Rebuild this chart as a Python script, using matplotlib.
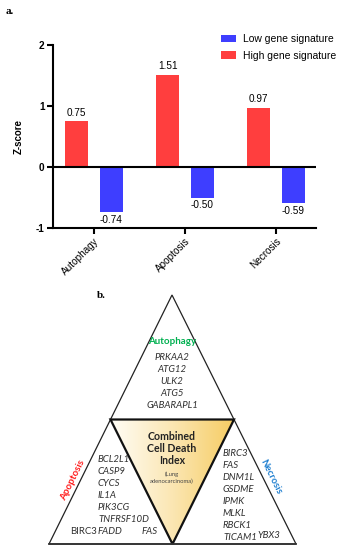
import numpy as np
import matplotlib
matplotlib.use("Agg")
import matplotlib.pyplot as plt
from matplotlib.patches import Polygon
from matplotlib.colors import LinearSegmentedColormap

# ---------------- data ----------------
categories = ["Autophagy", "Apoptosis", "Necrosis"]
low_values = [-0.74, -0.50, -0.59]
high_values = [0.75, 1.51, 0.97]
y_ticks = [-1, 0, 1, 2]

autophagy_genes = ["PRKAA2", "ATG12", "ULK2", "ATG5", "GABARAPL1"]
apoptosis_genes = ["BCL2L1", "CASP9", "CYCS", "IL1A", "PIK3CG", "TNFRSF10D", "FADD"]
necrosis_genes = ["BIRC3", "FAS", "DNM1L", "GSDME", "IPMK", "MLKL", "RBCK1", "TICAM1"]

RED = "#FF3E3E"
BLUE = "#3E3EFF"

plt.rcParams["font.family"] = ["Liberation Sans", "DejaVu Sans"]

fig = plt.figure(figsize=(3.44, 5.5), dpi=100)
W, H = 344, 550

# ---------------- panel a ----------------
ax = fig.add_axes([53 / W, 1 - 228 / H, (316 - 53) / W, (228 - 45) / H])
x = np.arange(len(categories))
bw, off = 0.25, 0.19
hb = ax.bar(x - off, high_values, bw, color=RED, label="High gene signature")
lb = ax.bar(x + off, low_values, bw, color=BLUE, label="Low gene signature")

for xi, v in zip(x - off, high_values):
    ax.annotate(f"{v:.2f}", (xi, v), xytext=(0, 2.5), textcoords="offset points",
                ha="center", va="bottom", fontsize=7.2)
for xi, v in zip(x + off, low_values):
    ax.annotate(f"{v:.2f}", (xi, v), xytext=(0, -2), textcoords="offset points",
                ha="center", va="top", fontsize=7.2)

ax.set_xlim(-0.45, 2.44)
ax.set_ylim(-1, 2)
ax.set_yticks(y_ticks)
ax.set_yticklabels([str(t) for t in y_ticks], fontweight="bold", fontsize=7.2)
ax.set_xticks(x)
ax.set_xticklabels(categories, rotation=45, ha="right", rotation_mode="anchor", fontsize=7.2)
ax.axhline(0, color="black", lw=1.5, zorder=3)
for s in ["top", "right"]:
    ax.spines[s].set_visible(False)
for s in ["left", "bottom"]:
    ax.spines[s].set_linewidth(1.5)
ax.tick_params(width=1.5, length=4, pad=2)
ax.set_ylabel("Z-score", fontweight="bold", fontsize=7, labelpad=9)

ax.legend(handles=[lb, hb], loc="upper left", bbox_to_anchor=(212 / W, 1 - 25 / H),
          bbox_transform=fig.transFigure, frameon=False, fontsize=7.5,
          handlelength=1.4, handleheight=0.7, labelspacing=0.6, handletextpad=0.7)

fig.text(6 / W, 1 - 12 / H, "a.", fontsize=8, fontweight="bold",
         family="Liberation Serif", va="center")

# ---------------- panel b ----------------
ax2 = fig.add_axes([0, 0, 1, 1], zorder=-1)
ax2.set_xlim(0, W)
ax2.set_ylim(H, 0)
ax2.axis("off")

apex = np.array([172, 295])
bl = np.array([49, 544])
br = np.array([296, 544])
ml = (apex + bl) / 2
mr = (apex + br) / 2
mb = (bl + br) / 2

outer = Polygon([apex, bl, br], closed=True, fill=False, ec="#222222", lw=0.9)
ax2.add_patch(outer)

inner_pts = [ml, mr, mb]
cmap = LinearSegmentedColormap.from_list("g", ["#FFFDF6", "#FBE6B2", "#F6CC62"])
grad = np.linspace(0, 1, 256).reshape(1, -1)
im = ax2.imshow(grad, cmap=cmap, extent=(ml[0], mr[0], mb[1], ml[1]), aspect="auto")
clip = Polygon(inner_pts, closed=True, transform=ax2.transData, fc="none", ec="none")
ax2.add_patch(clip)
im.set_clip_path(clip)
ax2.add_patch(Polygon(inner_pts, closed=True, fill=False, ec="#111111", lw=1.6,
                      joinstyle="miter"))
ax2.plot([bl[0], br[0]], [bl[1], br[1]], color="#333333", lw=1.3)

FB = ["Lato", "DejaVu Sans"]
GC = "#303030"
GS = 6.9
fig.text(97 / W, 1 - 295 / H, "b.", fontsize=8, fontweight="bold",
         family="Liberation Serif", va="center")

ax2.text(172, 342, "Autophagy", color="#00B050", fontweight="bold", fontsize=7,
         ha="center", va="center", family=FB)
for i, g in enumerate(autophagy_genes):
    ax2.text(172, 357 + i * 12, g, style="italic", fontsize=GS, ha="center",
             va="center", family=FB, color=GC)

for i, t in enumerate(["Combined", "Cell Death", "Index"]):
    ax2.text(172, 436 + i * 12.5, t, fontweight="bold", fontsize=7.6, ha="center",
             va="center", family=FB, color="#222222")
ax2.text(172, 474, "(Lung", fontsize=4.2, ha="center", va="center", family=FB, color="#444444")
ax2.text(172, 481, "adenocarcinoma)", fontsize=4.2, ha="center", va="center", family=FB,
         color="#444444")

for i, g in enumerate(apoptosis_genes):
    ax2.text(98, 459 + i * 12, g, style="italic", fontsize=GS, ha="left",
             va="center", family=FB, color=GC)
ax2.text(70, 532, "BIRC3", fontsize=GS, ha="left", va="center", family=FB, color=GC)
ax2.text(142, 532, "FAS", style="italic", fontsize=GS, ha="left", va="center",
         family=FB, color=GC)

for i, g in enumerate(necrosis_genes):
    ax2.text(223, 454 + i * 12, g, style="italic", fontsize=GS, ha="left",
             va="center", family=FB, color=GC)
ax2.text(257, 535, "YBX3", style="italic", fontsize=GS, ha="left", va="center",
         family=FB, color=GC)

ang = np.degrees(np.arctan2(bl[1] - apex[1], apex[0] - bl[0]))
ax2.text(73, 480, "Apoptosis", color="#FF1A1A", fontweight="bold", fontsize=7,
         rotation=ang, rotation_mode="anchor", ha="center", va="center", family=FB)
ax2.text(271, 477, "Necrosis", color="#1E7FD0", fontweight="bold", fontsize=7,
         rotation=-ang, rotation_mode="anchor", ha="center", va="center", family=FB)

fig.savefig("out.png", dpi=100)
